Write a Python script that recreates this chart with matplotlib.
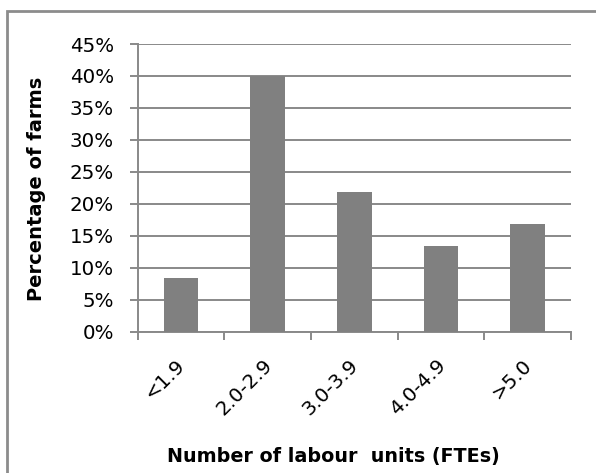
import matplotlib
matplotlib.use("Agg")
import matplotlib.pyplot as plt
from matplotlib.patches import Rectangle
import numpy as np

categories = ["<1.9", "2.0-2.9", "3.0-3.9", "4.0-4.9", ">5.0"]
values = [8.3, 40.0, 21.8, 13.4, 16.8]
yticks = [0, 5, 10, 15, 20, 25, 30, 35, 40, 45]

plt.rcParams['font.family'] = ['DejaVu Sans']

W, H = 596, 473
L, R, T, B = 137.6, 571.0, 44.0, 331.5
fig = plt.figure(figsize=(W/100, H/100), dpi=100)
ax = fig.add_axes([L/W, 1 - B/H, (R - L)/W, (B - T)/H])

x = np.arange(len(categories))
ax.bar(x, values, width=0.4, color="#808080", zorder=3)
ax.set_xlim(-0.5, len(categories) - 0.5)
ax.set_ylim(0, 45)
ax.set_yticks(yticks)
ax.set_yticklabels([f"{v}%" for v in yticks], fontsize=14.3)
ax.yaxis.grid(True, color="#898989", linewidth=1.4, zorder=0)
ax.set_axisbelow(True)
for s in ["top", "right"]:
    ax.spines[s].set_visible(False)
for s in ["left", "bottom"]:
    ax.spines[s].set_color("#898989")
    ax.spines[s].set_linewidth(1.4)
ax.tick_params(axis='y', length=6, width=1.4, color="#898989", pad=11)
ax.set_xticks(np.arange(-0.5, len(categories) + 0.5, 1.0))
ax.set_xticklabels([])
ax.tick_params(axis='x', length=6, width=1.4, color="#898989")
ax.set_xticks(x, minor=True)
ax.set_xticklabels(categories, minor=True, rotation=45, ha='right', va='center_baseline',
                   rotation_mode='anchor', fontsize=14.3)
ax.tick_params(axis='x', which='minor', length=0, pad=21)

ax.set_ylabel("Percentage of farms", fontsize=14, fontweight='bold')
ax.yaxis.set_label_coords((46 - L) / (R - L), (B - 189) / (B - T))
fig.text(333.7 / W, 1 - 456 / H, "Number of labour  units (FTEs)",
         fontsize=13.8, fontweight='bold', ha='center', va='center')

fig.patches.append(Rectangle((7/W, -0.05), 2, 1 - 11/H + 0.05, transform=fig.transFigure,
                             fill=False, edgecolor="#8c8c8c", linewidth=2, figure=fig))

fig.savefig("out.png", dpi=100)
